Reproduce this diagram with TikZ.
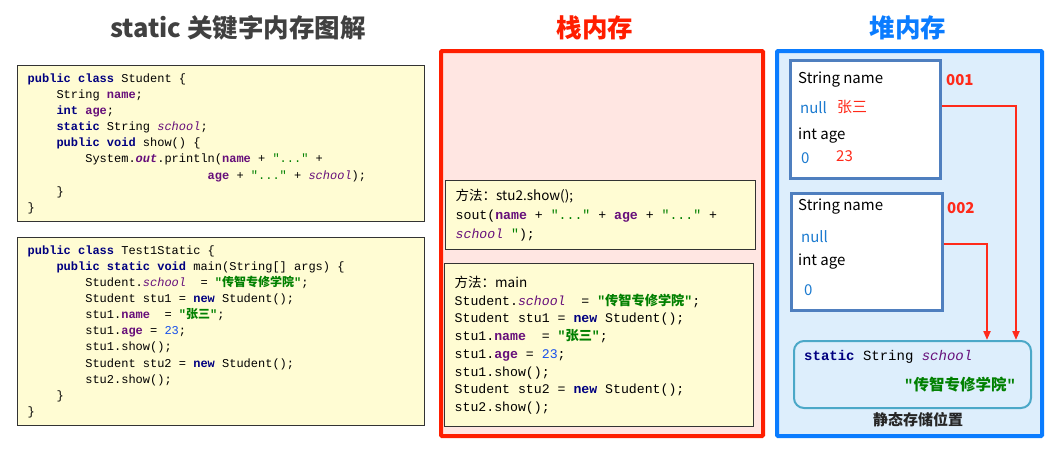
\documentclass[tikz,border=0pt]{standalone}
\usepackage{fontspec}
\setmainfont{Noto Sans CJK SC}
\setmonofont{Liberation Mono}[WordSpace={1,0,0}]
\newfontfamily\cjk{Noto Sans CJK SC}
\usetikzlibrary{arrows.meta,positioning}

\definecolor{kwblue}{HTML}{000080}
\definecolor{fldpurple}{HTML}{660E7A}
\definecolor{strgreen}{HTML}{008000}
\definecolor{numblue}{HTML}{1750EB}
\definecolor{codeyellow}{HTML}{FFFCD3}
\definecolor{stackred}{HTML}{FF1E00}
\definecolor{stackfill}{HTML}{FFE6E2}
\definecolor{heapblue}{HTML}{0A7CFF}
\definecolor{heapfill}{HTML}{DDEEFC}
\definecolor{objblue}{HTML}{4F7FBF}
\definecolor{valblue}{HTML}{1C7BD0}
\definecolor{valred}{HTML}{FF2A1A}
\definecolor{staticcyan}{HTML}{4BA8C8}
\definecolor{titlegray}{HTML}{404040}

\newcommand\kw[1]{\textcolor{kwblue}{\bfseries #1}}
\newcommand\fld[1]{\textcolor{fldpurple}{\bfseries #1}}
\newcommand\sfld[1]{\textcolor{fldpurple}{\itshape #1}}
\newcommand\jdots{\textcolor{strgreen}{"..."}}
\newcommand\cstr[1]{\textcolor{strgreen}{\bfseries"{\cjk\bfseries #1}"}}
\newcommand\jnum[1]{\textcolor{numblue}{#1}}
\newcommand\tb{\hspace*{2.4em}}
\newcommand\monospace{\spaceskip=0.6em\xspaceskip=0.6em\relax}

\begin{document}
\begin{tikzpicture}[x=1pt, y=-1pt,
    title/.style={font=\bfseries\fontsize{25.5}{28}\selectfont},
    codebox/.style={draw=black!80, line width=1.4pt, fill=codeyellow, anchor=north west,
      align=left, inner xsep=10pt, font=\ttfamily\fontsize{12}{16.1}\selectfont},
    framebox/.style={draw, line width=4pt, anchor=north west, rounded corners=1pt},
    objbox/.style={draw=objblue, line width=2.5pt, fill=white, anchor=north west},
    heaptext/.style={anchor=west, inner sep=0pt, font=\fontsize{15}{18}\selectfont},
    refarrow/.style={draw=valred, line width=2pt, -{Triangle[length=9pt,width=7pt]}}]

  \useasboundingbox (0,0) rectangle (1055,448);

  % titles
  \node[title, text=titlegray] (maintitle) at (238,28) {static 关键字内存图解};
  \node[title, text=stackred] (stacktitle) at (595,28) {栈内存};
  \node[title, text=heapblue] (heaptitle) at (908,28) {堆内存};

  % source code
  \node[codebox, text width=387pt, minimum width=407pt, minimum height=156pt] (student) at (17,65) {\monospace
\kw{public class} Student \{\\
\tb String \fld{name};\\
\tb\kw{int} \fld{age};\\
\tb\kw{static} String \sfld{school};\\
\tb\kw{public void} show() \{\\
\tb\tb System.\textcolor{fldpurple}{\bfseries\itshape out}.println(\fld{name} + \jdots{} +\\
\hspace*{15em}\fld{age} + \jdots{} + \sfld{school});\\
\tb\}\\
\}};
  \node[codebox, text width=387pt, minimum width=407pt, minimum height=188pt] (test) at (17,237) {\monospace
\kw{public class} Test1Static \{\\
\tb\kw{public static void} main(String[] args) \{\\
\tb\tb Student.\sfld{school}~~= \cstr{传智专修学院};\\
\tb\tb Student stu1 = \kw{new} Student();\\
\tb\tb stu1.\fld{name}~~= \cstr{张三};\\
\tb\tb stu1.\fld{age} = \jnum{23};\\
\tb\tb stu1.show();\\
\tb\tb Student stu2 = \kw{new} Student();\\
\tb\tb stu2.show();\\
\tb\}\\
\}};

  % stack
  \node[framebox, draw=stackred, fill=stackfill, minimum width=322pt, minimum height=385pt] (stack) at (439,49) {};
  \node[codebox, font=\ttfamily\fontsize{13.2}{19}\selectfont, text width=290pt,
    minimum width=310pt, minimum height=69pt] (showframe) at (445,180) {\monospace
{\rmfamily\fontsize{13.5}{19}\selectfont 方法：stu2.show();}\\
sout(\fld{name} + \jdots{} + \fld{age} + \jdots{} +\\
\sfld{school} \textcolor{strgreen}{"});};
  \node[codebox, font=\ttfamily\fontsize{13.2}{17.7}\selectfont, text width=289pt,
    minimum width=309pt, minimum height=163pt] (mainframe) at (444,263) {\monospace
{\rmfamily\fontsize{13.5}{17.7}\selectfont 方法：main}\\
Student.\sfld{school}~~= \cstr{传智专修学院};\\
Student stu1 = \kw{new} Student();\\
stu1.\fld{name}~~= \cstr{张三};\\
stu1.\fld{age} = \jnum{23};\\
stu1.show();\\
Student stu2 = \kw{new} Student();\\
stu2.show();\\[2pt]};

  % heap
  \node[framebox, draw=heapblue, fill=heapfill, minimum width=265pt, minimum height=385pt] (heap) at (775,49) {};

  % object 001
  \node[objbox, minimum width=150pt, minimum height=118pt] (obj1) at (789,59) {};
  \node[heaptext] (name1) at (798,80) {String name};
  \node[heaptext, text=valblue] (null1) at (800,108) {null};
  \node[heaptext, text=valred] (zs) at (837,107) {张三};
  \node[heaptext] (age1) at (798,136) {int age};
  \node[heaptext, text=valblue] (zero1) at (801,158) {0};
  \node[heaptext, text=valred] (tt) at (836,156) {23};
  \node[heaptext, text=valred, font=\bfseries\fontsize{15}{18}\selectfont] (addr1) at (946,80) {001};

  % object 002
  \node[objbox, minimum width=151pt, minimum height=117pt] (obj2) at (790,192) {};
  \node[heaptext] (name2) at (798,207) {String name};
  \node[heaptext, text=valblue] (null2) at (801,237) {null};
  \node[heaptext] (age2) at (798,262) {int age};
  \node[heaptext, text=valblue] (zero2) at (804,290) {0};
  \node[heaptext, text=valred, font=\bfseries\fontsize{15}{18}\selectfont] (addr2) at (947,208) {002};

  % static area
  \node[draw=staticcyan, line width=2pt, rounded corners=10pt, fill=heapfill, anchor=north west,
    minimum width=237pt, minimum height=67pt] (static) at (793,340) {};
  \node[anchor=west, inner sep=0pt, font=\ttfamily\fontsize{14}{16}\selectfont] (staticdecl) at (804,357)
    {\kw{static} String \sfld{school}};
  \node[anchor=west, inner sep=0pt, text=strgreen, font=\bfseries\fontsize{15.5}{18}\selectfont] (staticval) at (904,385)
    {{\ttfamily"}传智专修学院{\ttfamily"}};
  \node[font=\bfseries\fontsize{15}{18}\selectfont, text=black!85] (staticlabel) at (918,420) {静态存储位置};

  \draw[refarrow] ([yshift=13pt]obj1.east) -| ([xshift=103.5pt]static.north);
  \draw[refarrow] ([yshift=7.5pt]obj2.east) -| ([xshift=74.5pt]static.north);

\end{tikzpicture}
\end{document}
